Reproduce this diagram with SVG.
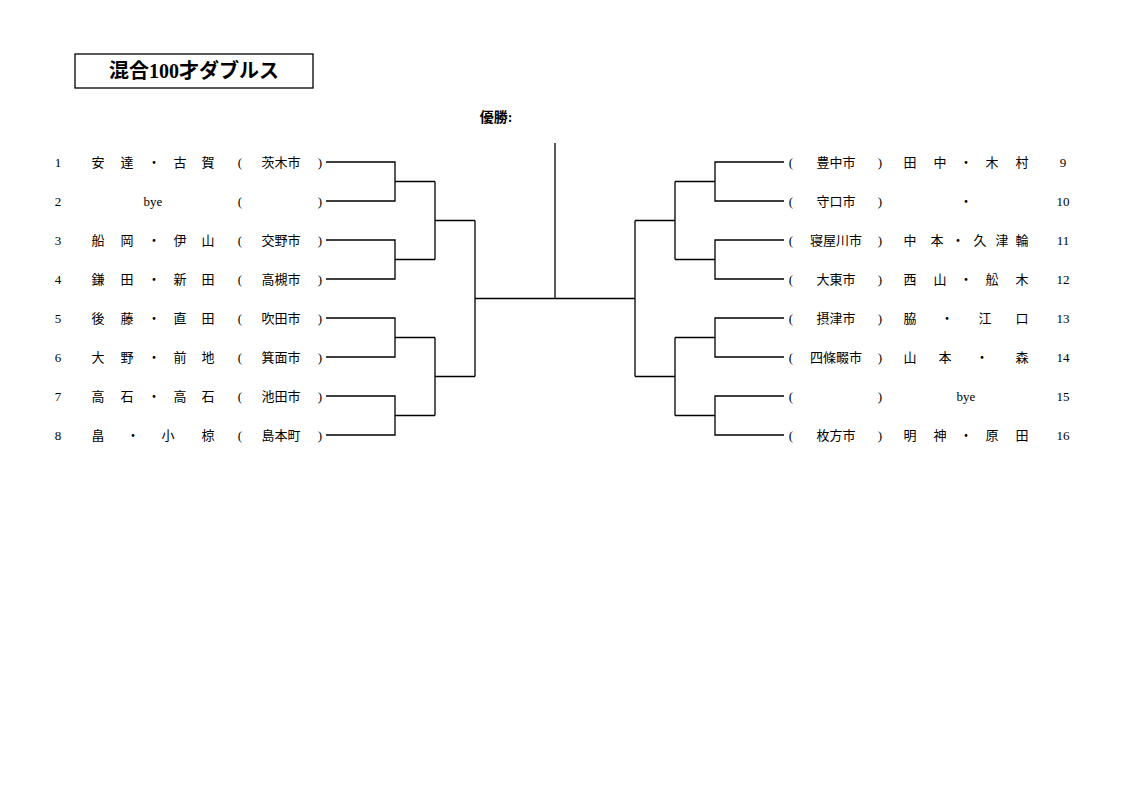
<svg xmlns="http://www.w3.org/2000/svg" width="1122" height="794" viewBox="0 0 1122 794">
<style>
.t{font-family:"Liberation Serif","Noto Sans CJK JP",serif;font-size:13px;fill:#000;text-anchor:middle}
.ttl{font-family:"Liberation Serif","Noto Sans CJK JP",serif;font-size:20px;font-weight:bold;fill:#000;text-anchor:middle}
.win{font-family:"Liberation Serif","Noto Sans CJK JP",serif;font-size:14px;font-weight:bold;fill:#000;text-anchor:middle}
.ln{fill:none;stroke:#000;stroke-width:1.3}
</style>
<rect width="1122" height="794" fill="#fff"/>
<g id="title">
<rect x="75" y="54" width="238" height="34" fill="none" stroke="#000" stroke-width="1.3"/>
<text class="ttl" x="194" y="78">混合100才ダブルス</text>
</g>
<g id="champion">
<text class="win" x="496" y="122">優勝:</text>
</g>
<g id="connectors">
<path class="ln" d="M326,162H395V201H326M395,181.5H435"/>
<path class="ln" d="M326,240H395V279H326M395,259.5H435"/>
<path class="ln" d="M326,318H395V357H326M395,337.5H435"/>
<path class="ln" d="M326,396H395V435H326M395,415.5H435"/>
<path class="ln" d="M435,181.5V259.5M435,220.5H475"/>
<path class="ln" d="M435,337.5V415.5M435,376.5H475"/>
<path class="ln" d="M475,220.5V376.5M475,298.5H635"/>
<path class="ln" d="M784,162H715V201H784M715,181.5H675"/>
<path class="ln" d="M784,240H715V279H784M715,259.5H675"/>
<path class="ln" d="M784,318H715V357H784M715,337.5H675"/>
<path class="ln" d="M784,396H715V435H784M715,415.5H675"/>
<path class="ln" d="M675,181.5V259.5M675,220.5H635"/>
<path class="ln" d="M675,337.5V415.5M675,376.5H635"/>
<path class="ln" d="M635,220.5V376.5"/>
<path class="ln" d="M555,143V298.5"/>
</g>
<g id="entry1"><text class="t" x="58" y="167">1</text><text class="t" x="98" y="167">安</text><text class="t" x="127" y="167">達</text><text class="t" x="154" y="167">・</text><text class="t" x="180" y="167">古</text><text class="t" x="208" y="167">賀</text><text class="t" x="240" y="167">(</text><text class="t" x="281" y="167">茨木市</text><text class="t" x="320" y="167">)</text></g>
<g id="entry2"><text class="t" x="58" y="206">2</text><text class="t" x="153" y="206">bye</text><text class="t" x="240" y="206">(</text><text class="t" x="320" y="206">)</text></g>
<g id="entry3"><text class="t" x="58" y="245">3</text><text class="t" x="98" y="245">船</text><text class="t" x="127" y="245">岡</text><text class="t" x="154" y="245">・</text><text class="t" x="180" y="245">伊</text><text class="t" x="208" y="245">山</text><text class="t" x="240" y="245">(</text><text class="t" x="281" y="245">交野市</text><text class="t" x="320" y="245">)</text></g>
<g id="entry4"><text class="t" x="58" y="284">4</text><text class="t" x="98" y="284">鎌</text><text class="t" x="127" y="284">田</text><text class="t" x="154" y="284">・</text><text class="t" x="180" y="284">新</text><text class="t" x="208" y="284">田</text><text class="t" x="240" y="284">(</text><text class="t" x="281" y="284">高槻市</text><text class="t" x="320" y="284">)</text></g>
<g id="entry5"><text class="t" x="58" y="323">5</text><text class="t" x="98" y="323">後</text><text class="t" x="127" y="323">藤</text><text class="t" x="154" y="323">・</text><text class="t" x="180" y="323">直</text><text class="t" x="208" y="323">田</text><text class="t" x="240" y="323">(</text><text class="t" x="281" y="323">吹田市</text><text class="t" x="320" y="323">)</text></g>
<g id="entry6"><text class="t" x="58" y="362">6</text><text class="t" x="98" y="362">大</text><text class="t" x="127" y="362">野</text><text class="t" x="154" y="362">・</text><text class="t" x="180" y="362">前</text><text class="t" x="208" y="362">地</text><text class="t" x="240" y="362">(</text><text class="t" x="281" y="362">箕面市</text><text class="t" x="320" y="362">)</text></g>
<g id="entry7"><text class="t" x="58" y="401">7</text><text class="t" x="98" y="401">高</text><text class="t" x="127" y="401">石</text><text class="t" x="154" y="401">・</text><text class="t" x="180" y="401">高</text><text class="t" x="208" y="401">石</text><text class="t" x="240" y="401">(</text><text class="t" x="281" y="401">池田市</text><text class="t" x="320" y="401">)</text></g>
<g id="entry8"><text class="t" x="58" y="440">8</text><text class="t" x="98" y="440">畠</text><text class="t" x="133" y="440">・</text><text class="t" x="168" y="440">小</text><text class="t" x="208" y="440">椋</text><text class="t" x="240" y="440">(</text><text class="t" x="281" y="440">島本町</text><text class="t" x="320" y="440">)</text></g>
<g id="entry9"><text class="t" x="791" y="167">(</text><text class="t" x="836" y="167">豊中市</text><text class="t" x="880" y="167">)</text><text class="t" x="910" y="167">田</text><text class="t" x="940" y="167">中</text><text class="t" x="966" y="167">・</text><text class="t" x="992" y="167">木</text><text class="t" x="1022" y="167">村</text><text class="t" x="1063" y="167">9</text></g>
<g id="entry10"><text class="t" x="791" y="206">(</text><text class="t" x="836" y="206">守口市</text><text class="t" x="880" y="206">)</text><text class="t" x="966" y="206">・</text><text class="t" x="1063" y="206">10</text></g>
<g id="entry11"><text class="t" x="791" y="245">(</text><text class="t" x="836" y="245">寝屋川市</text><text class="t" x="880" y="245">)</text><text class="t" x="910" y="245">中</text><text class="t" x="937" y="245">本</text><text class="t" x="958" y="245">・</text><text class="t" x="980" y="245">久</text><text class="t" x="1002" y="245">津</text><text class="t" x="1022" y="245">輪</text><text class="t" x="1063" y="245">11</text></g>
<g id="entry12"><text class="t" x="791" y="284">(</text><text class="t" x="836" y="284">大東市</text><text class="t" x="880" y="284">)</text><text class="t" x="910" y="284">西</text><text class="t" x="940" y="284">山</text><text class="t" x="966" y="284">・</text><text class="t" x="992" y="284">舩</text><text class="t" x="1022" y="284">木</text><text class="t" x="1063" y="284">12</text></g>
<g id="entry13"><text class="t" x="791" y="323">(</text><text class="t" x="836" y="323">摂津市</text><text class="t" x="880" y="323">)</text><text class="t" x="910" y="323">脇</text><text class="t" x="947" y="323">・</text><text class="t" x="985" y="323">江</text><text class="t" x="1022" y="323">口</text><text class="t" x="1063" y="323">13</text></g>
<g id="entry14"><text class="t" x="791" y="362">(</text><text class="t" x="836" y="362">四條畷市</text><text class="t" x="880" y="362">)</text><text class="t" x="910" y="362">山</text><text class="t" x="945" y="362">本</text><text class="t" x="982" y="362">・</text><text class="t" x="1022" y="362">森</text><text class="t" x="1063" y="362">14</text></g>
<g id="entry15"><text class="t" x="791" y="401">(</text><text class="t" x="880" y="401">)</text><text class="t" x="966" y="401">bye</text><text class="t" x="1063" y="401">15</text></g>
<g id="entry16"><text class="t" x="791" y="440">(</text><text class="t" x="836" y="440">枚方市</text><text class="t" x="880" y="440">)</text><text class="t" x="910" y="440">明</text><text class="t" x="940" y="440">神</text><text class="t" x="966" y="440">・</text><text class="t" x="992" y="440">原</text><text class="t" x="1022" y="440">田</text><text class="t" x="1063" y="440">16</text></g>
</svg>
